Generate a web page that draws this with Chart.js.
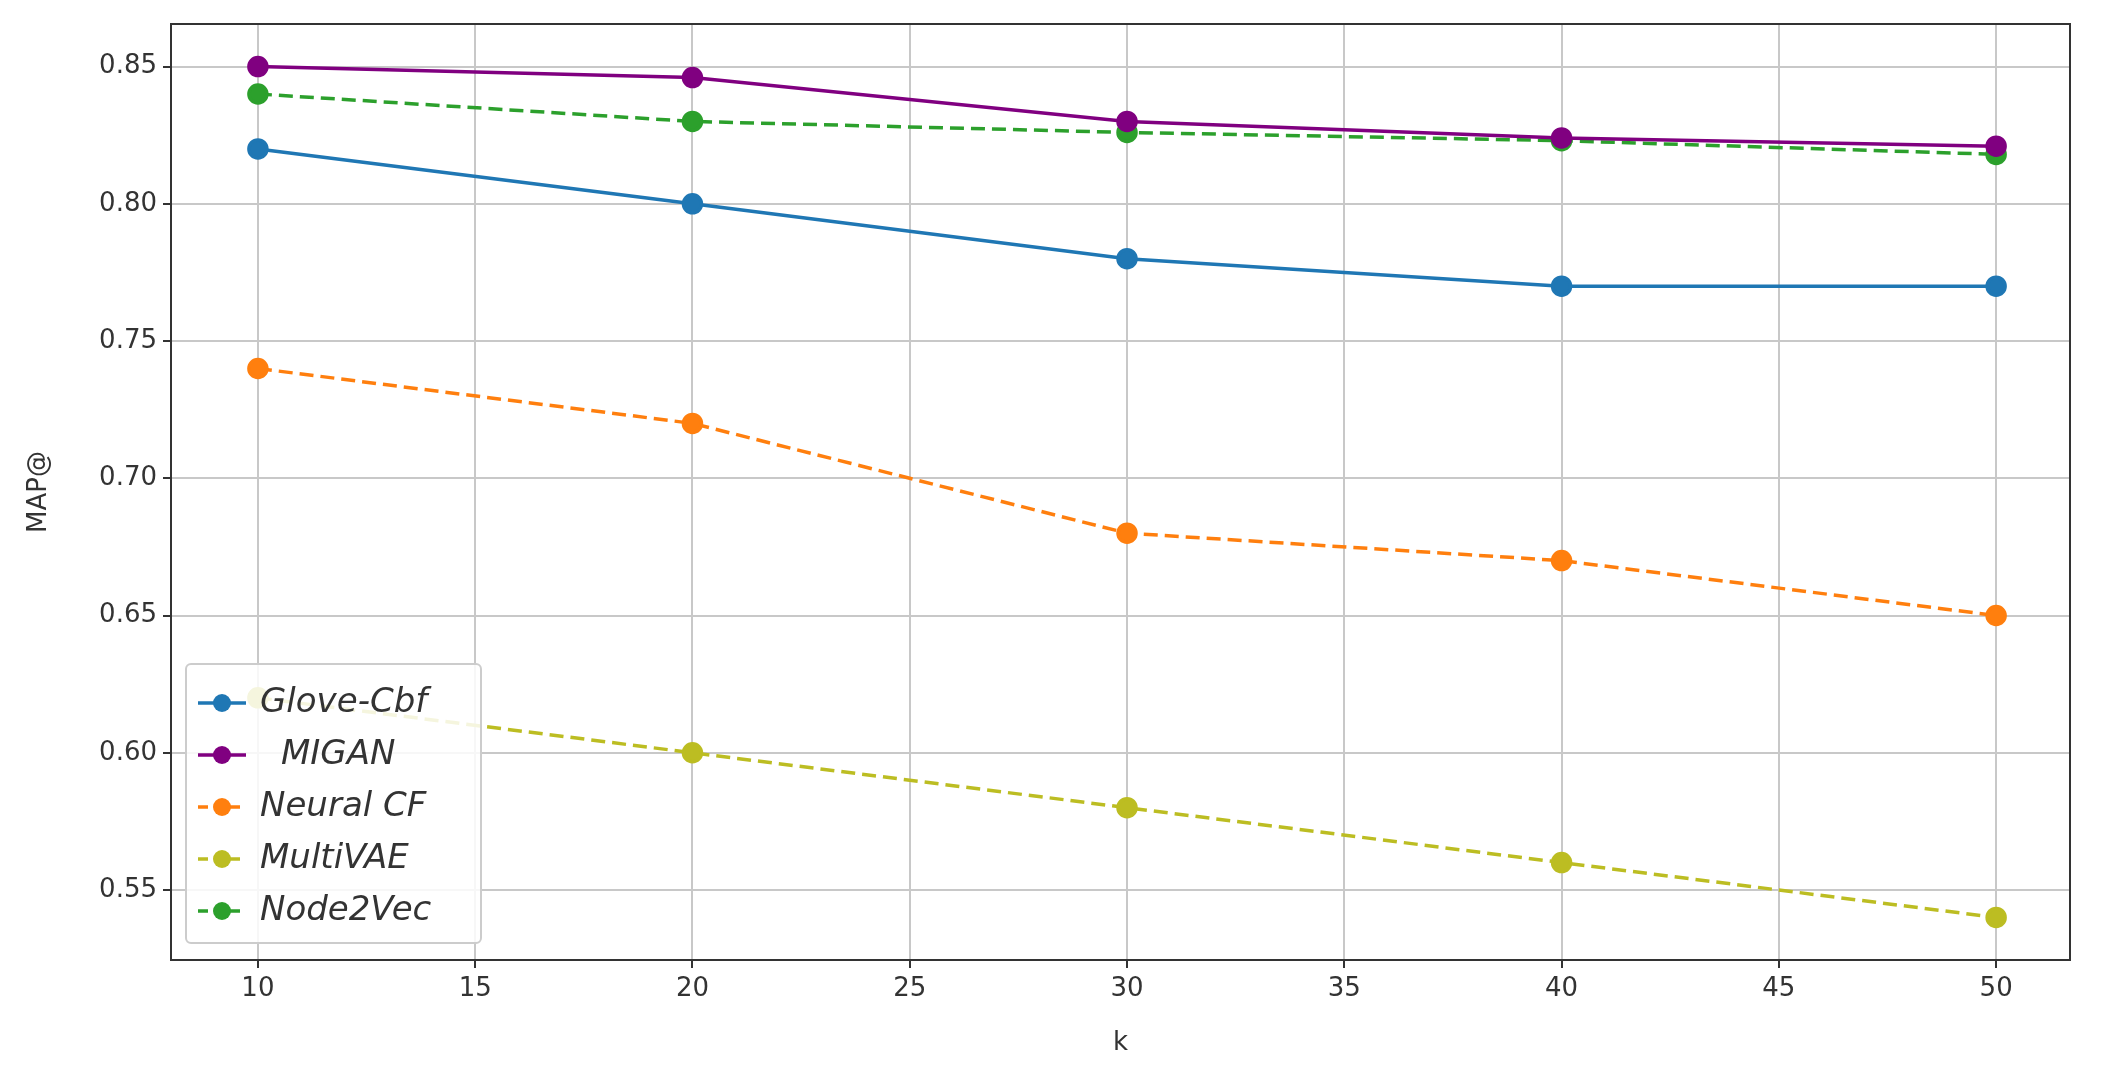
<!DOCTYPE html>
<html><head><meta charset="utf-8">
<script src="https://cdn.jsdelivr.net/npm/chart.js@4/dist/chart.umd.min.js"></script>
<style>html,body{margin:0;padding:0;background:#fff}#w{width:2112px;height:1077px}</style>
</head><body><div id="w"><canvas id="c"></canvas></div>
<script>
const kValues=[10,20,30,40,50];
const gloveCbf=[0.82,0.80,0.78,0.77,0.77];
const migan=[0.85,0.846,0.83,0.824,0.821];
const neuralCF=[0.74,0.72,0.68,0.67,0.65];
const multiVAE=[0.62,0.60,0.58,0.56,0.54];
const node2Vec=[0.84,0.83,0.826,0.823,0.818];
const yTicks=[0.55,0.60,0.65,0.70,0.75,0.80,0.85];
const xTicks=[10,15,20,25,30,35,40,45,50];
const names=['Glove-Cbf','MIGAN','Neural CF','MultiVAE','Node2Vec'];
const cols=['#1f77b4','#800080','#ff7f0e','#bcbd22','#2ca02c'];
const dashes=[[],[],[14,7],[14,7],[14,7]];
const series=[gloveCbf,migan,neuralCF,multiVAE,node2Vec];
const ds=series.map((s,i)=>({label:names[i],data:s.map((v,j)=>({x:kValues[j],y:v})),borderColor:cols[i],backgroundColor:cols[i],borderDash:dashes[i],borderWidth:3.5,pointRadius:9,pointHoverRadius:9,tension:0}));
const frame={id:'frame',afterDraw(ch){const c=ch.ctx,a=ch.chartArea;c.save();
c.strokeStyle='#333';c.lineWidth=2;c.strokeRect(a.left,a.top,a.right-a.left,a.bottom-a.top);
const lx=186,ly=664,lw=295,lh=279;c.fillStyle='rgba(255,255,255,0.85)';c.strokeStyle='#ccc';c.lineWidth=2;
c.beginPath();c.roundRect(lx,ly,lw,lh,5);c.fill();c.stroke();
c.font='italic 34px "DejaVu Sans"';c.textBaseline='middle';
for(let i=0;i<5;i++){const y=ly+39+i*52;c.strokeStyle=cols[i];c.lineWidth=3.5;c.setLineDash(dashes[i].length?[10,6]:[]);
c.beginPath();c.moveTo(lx+12,y);c.lineTo(lx+60,y);c.stroke();c.setLineDash([]);
c.fillStyle=cols[i];c.beginPath();c.arc(lx+36,y,9,0,Math.PI*2);c.fill();
c.fillStyle='#333';c.fillText(names[i],i==1?lx+95:lx+74,y);}
c.restore();}};
new Chart(document.getElementById('c'),{type:'line',data:{datasets:ds},plugins:[frame],
options:{responsive:true,maintainAspectRatio:false,animation:false,
layout:{padding:{top:24,right:42,left:20,bottom:14}},
plugins:{legend:{display:false},tooltip:{enabled:false}},
scales:{
x:{type:'linear',min:8,max:51.7,afterBuildTicks:s=>{s.ticks=xTicks.map(v=>({value:v}))},
afterFit:s=>{s.height=103},
grid:{color:'#c8c8c8',lineWidth:2,tickLength:8,tickColor:'#333'},border:{display:false},
ticks:{color:'#333',font:{size:26,family:'DejaVu Sans'},padding:6},
title:{display:true,text:'k',color:'#333',font:{size:26,family:'DejaVu Sans'},padding:{top:2}}},
y:{min:0.5245,max:0.8655,afterBuildTicks:s=>{s.ticks=yTicks.map(v=>({value:v}))},
afterFit:s=>{s.width=151},
grid:{color:'#c8c8c8',lineWidth:2,tickLength:8,tickColor:'#333'},border:{display:false},
ticks:{color:'#333',font:{size:26,family:'DejaVu Sans'},callback:v=>v.toFixed(2),padding:6},
title:{display:true,text:'MAP@',color:'#333',font:{size:26,family:'DejaVu Sans'},padding:{bottom:2}}}}}});
</script></body></html>
